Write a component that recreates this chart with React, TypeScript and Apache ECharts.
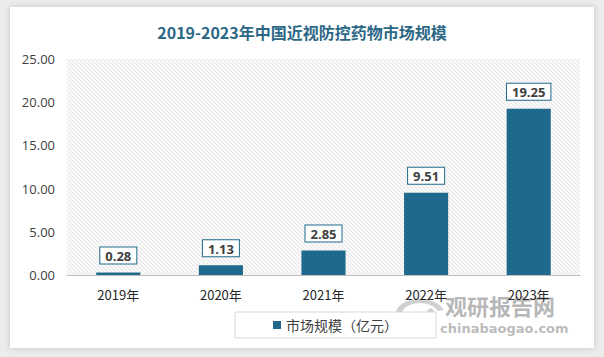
import React, { useEffect, useRef } from "react";
import * as echarts from "echarts";

const categories = ["2019年", "2020年", "2021年", "2022年", "2023年"];
const marketSize = [0.28, 1.13, 2.85, 9.51, 19.25];
const seriesName = "市场规模（亿元）";
const titleText = "2019-2023年中国近视防控药物市场规模";

function makePattern() {
  const c = document.createElement("canvas");
  c.width = 4;
  c.height = 4;
  const ctx = c.getContext("2d")!;
  ctx.fillStyle = "#f9f9f9";
  ctx.fillRect(0, 0, 4, 4);
  ctx.strokeStyle = "#e4e4e4";
  ctx.lineWidth = 1;
  ctx.beginPath();
  ctx.moveTo(-1, -1);
  ctx.lineTo(5, 5);
  ctx.moveTo(-1, 3);
  ctx.lineTo(1, 5);
  ctx.moveTo(3, -1);
  ctx.lineTo(5, 1);
  ctx.stroke();
  return { image: c, repeat: "repeat", imageWidth: 4, imageHeight: 4 } as any;
}

export default function App() {
  const ref = useRef<HTMLDivElement>(null);
  useEffect(() => {
    document.body.style.margin = "0";
    const chart = echarts.init(ref.current!, null, { renderer: "svg" });
    chart.setOption({
      animation: false,
      title: {
        text: titleText,
        left: "center",
        top: 19,
        textStyle: {
          fontFamily: "Noto Sans CJK SC",
          fontSize: 16,
          fontWeight: "bold",
          color: "#2b6886",
        },
      },
      grid: {
        left: 67,
        right: 24,
        top: 59,
        bottom: 82,
        show: true,
        borderWidth: 0,
        backgroundColor: makePattern(),
      },
      legend: {
        data: [seriesName],
        left: 235,
        top: 312,
        padding: [6, 38],
        backgroundColor: "#ffffff",
        borderColor: "#d9d9d9",
        borderWidth: 1,
        borderRadius: 0,
        itemWidth: 8,
        itemHeight: 8,
        itemGap: 5,
        icon: "rect",
        textStyle: {
          fontFamily: "Noto Sans CJK SC",
          fontSize: 14,
          color: "#404040",
        },
      },
      xAxis: {
        type: "category",
        data: categories,
        axisLine: { show: true, lineStyle: { color: "#bfbfbf", width: 1 } },
        axisTick: { show: false },
        axisLabel: {
          fontFamily: "Noto Sans CJK SC",
          fontSize: 13,
          color: "#262626",
          margin: 13,
        },
      },
      yAxis: {
        type: "value",
        min: 0,
        max: 25,
        interval: 5,
        axisLine: { show: false },
        axisTick: { show: false },
        splitLine: { show: false },
        axisLabel: {
          formatter: (v: number) => v.toFixed(2),
          fontFamily: "Open Sans",
          fontSize: 13,
          color: "#404040",
          margin: 12,
        },
      },
      series: [
        {
          name: seriesName,
          type: "bar",
          data: marketSize,
          barWidth: "43%",
          itemStyle: { color: "#1f6a8c" },
          label: {
            show: true,
            position: "top",
            distance: 9,
            formatter: (p: any) => p.value.toFixed(2),
            backgroundColor: "#ffffff",
            borderColor: "#1f6a8c",
            borderWidth: 1,
            padding: [2, 5, 1, 5],
            fontFamily: "Open Sans",
            fontSize: 13,
            fontWeight: "bold",
            color: "#404040",
          },
        },
      ],
      graphic: [
        {
          type: "group",
          x: 420,
          y: 315,
          scaleX: 1.55,
          scaleY: 1,
          z: 0,
          children: [
            {
              type: "arc",
              shape: { cx: 0, cy: 0, r: 14, startAngle: Math.PI * 0.75, endAngle: Math.PI * 1.9 },
              style: { stroke: "rgba(150,150,150,0.45)", lineWidth: 4, fill: "none" },
            },
            {
              type: "arc",
              shape: { cx: 0, cy: 0, r: 8, startAngle: Math.PI * 1.75, endAngle: Math.PI * 0.9 },
              style: { stroke: "rgba(150,150,150,0.45)", lineWidth: 4, fill: "none" },
            },
          ],
        },
        {
          type: "text",
          left: 445,
          top: 294,
          z: 0,
          style: {
            text: "观研报告网",
            fontFamily: "Noto Sans CJK SC",
            fontSize: 22,
            lineHeight: 22,
            fontWeight: "bold",
            fill: "rgba(120,120,120,0.55)",
          },
        },
        {
          type: "text",
          left: 440,
          top: 321,
          z: 0,
          style: {
            text: "chinabaogao.com",
            fontFamily: "DejaVu Sans",
            fontSize: 13,
            lineHeight: 14,
            fontWeight: "bold",
            fill: "rgba(120,120,120,0.5)",
          },
        },
      ],
    });
    return () => chart.dispose();
  }, []);
  return (
    <div style={{ position: "relative", width: 604, height: 357, background: "#ececec", overflow: "hidden" }}>
      <div
        style={{
          position: "absolute",
          left: 10,
          top: 7,
          width: 584,
          height: 341,
          background: "#ffffff",
          boxShadow: "0 0 6px rgba(0,0,0,0.18)",
        }}
      />
      <div ref={ref} style={{ position: "absolute", left: 0, top: 0, width: 604, height: 357 }} />
    </div>
  );
}
